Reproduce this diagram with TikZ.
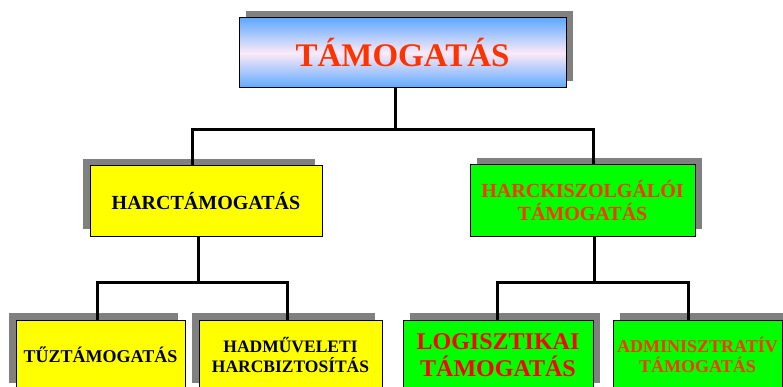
\documentclass[tikz,border=0pt]{standalone}
\usepackage{fontspec}
\setmainfont{Liberation Serif}
\usetikzlibrary{shadows}

\definecolor{boxyellow}{HTML}{FFFF00}
\definecolor{boxgreen}{HTML}{00FF00}
\definecolor{shadowgray}{HTML}{808080}
\definecolor{titlered}{HTML}{FF3300}
\definecolor{skyblue}{HTML}{5FA8FF}
\definecolor{palepink}{HTML}{FCEAF8}

\tikzset{
  box/.style={draw=black, line width=1pt, inner sep=0pt, align=center},
  shadowright/.style={drop shadow={shadow xshift=7pt, shadow yshift=7pt, fill=shadowgray, opacity=1}},
  shadowleft/.style={drop shadow={shadow xshift=-7pt, shadow yshift=7pt, fill=shadowgray, opacity=1}},
  conn/.style={line width=3pt},
}

\begin{document}
\begin{tikzpicture}[x=1pt,y=-1pt]
			\useasboundingbox (0,0) rectangle (783,387);
			\clip (0,0) rectangle (783,387);

			% Wurzel
			\node[box, shadowright, minimum width=327pt, minimum height=70pt,
				top color=skyblue, bottom color=skyblue, middle color=palepink,
				text=titlered, font=\bfseries\fontsize{33}{38}\selectfont] (tamogatas) at (402.5,53) {TÁMOGATÁS};

			% zweite Ebene
			\node[box, shadowleft, fill=boxyellow, minimum width=232pt, minimum height=70pt,
				font=\bfseries\fontsize{20}{23}\selectfont] (harc) at (206,201) {HARCTÁMOGATÁS};
			\node[box, shadowright, fill=boxgreen, text=titlered, minimum width=225pt, minimum height=71pt,
				font=\bfseries\fontsize{20}{23}\selectfont] (harcksz) at (582.5,200.5) {HARCKISZOLGÁLÓI\\TÁMOGATÁS};

			% dritte Ebene
			\node[box, shadowleft, fill=boxyellow, minimum width=169pt, minimum height=70pt,
				font=\bfseries\fontsize{18}{20}\selectfont] (tuz) at (100.5,355) {TŰZTÁMOGATÁS};
			\node[box, shadowleft, fill=boxyellow, minimum width=183pt, minimum height=70pt,
				font=\bfseries\fontsize{17.5}{20}\selectfont] (hadm) at (290.5,355) {HADMŰVELETI\\HARCBIZTOSÍTÁS};
			\node[box, shadowright, fill=boxgreen, text=red, minimum width=190pt, minimum height=70pt,
				font=\bfseries\fontsize{24}{27}\selectfont] (logi) at (498,355) {LOGISZTIKAI\\TÁMOGATÁS};
			\node[box, shadowright, fill=boxgreen, text=titlered, minimum width=169pt, minimum height=70pt,
				font=\bfseries\fontsize{18}{20}\selectfont] (admin) at (697.5,355) {ADMINISZTRATÍV\\TÁMOGATÁS};

			% Verbindungen
			\coordinate (busTop) at (395,130);
			\coordinate (busLeft) at (198,282);
			\coordinate (busRight) at (594,282);
			\draw[conn] (tamogatas.south -| busTop) -- (busTop);
			\draw[conn] (harc.north -| 192,0) |- (busTop) -| (harcksz.north -| 593,0);
			\draw[conn] (harc.south -| busLeft) -- (busLeft);
			\draw[conn] (tuz.north -| 97,0) |- (busLeft) -| (hadm.north -| 287,0);
			\draw[conn] (harcksz.south -| busRight) -- (busRight);
			\draw[conn] (logi.north -| 497,0) |- (busRight) -| (admin.north -| 688,0);
\end{tikzpicture}
\end{document}
